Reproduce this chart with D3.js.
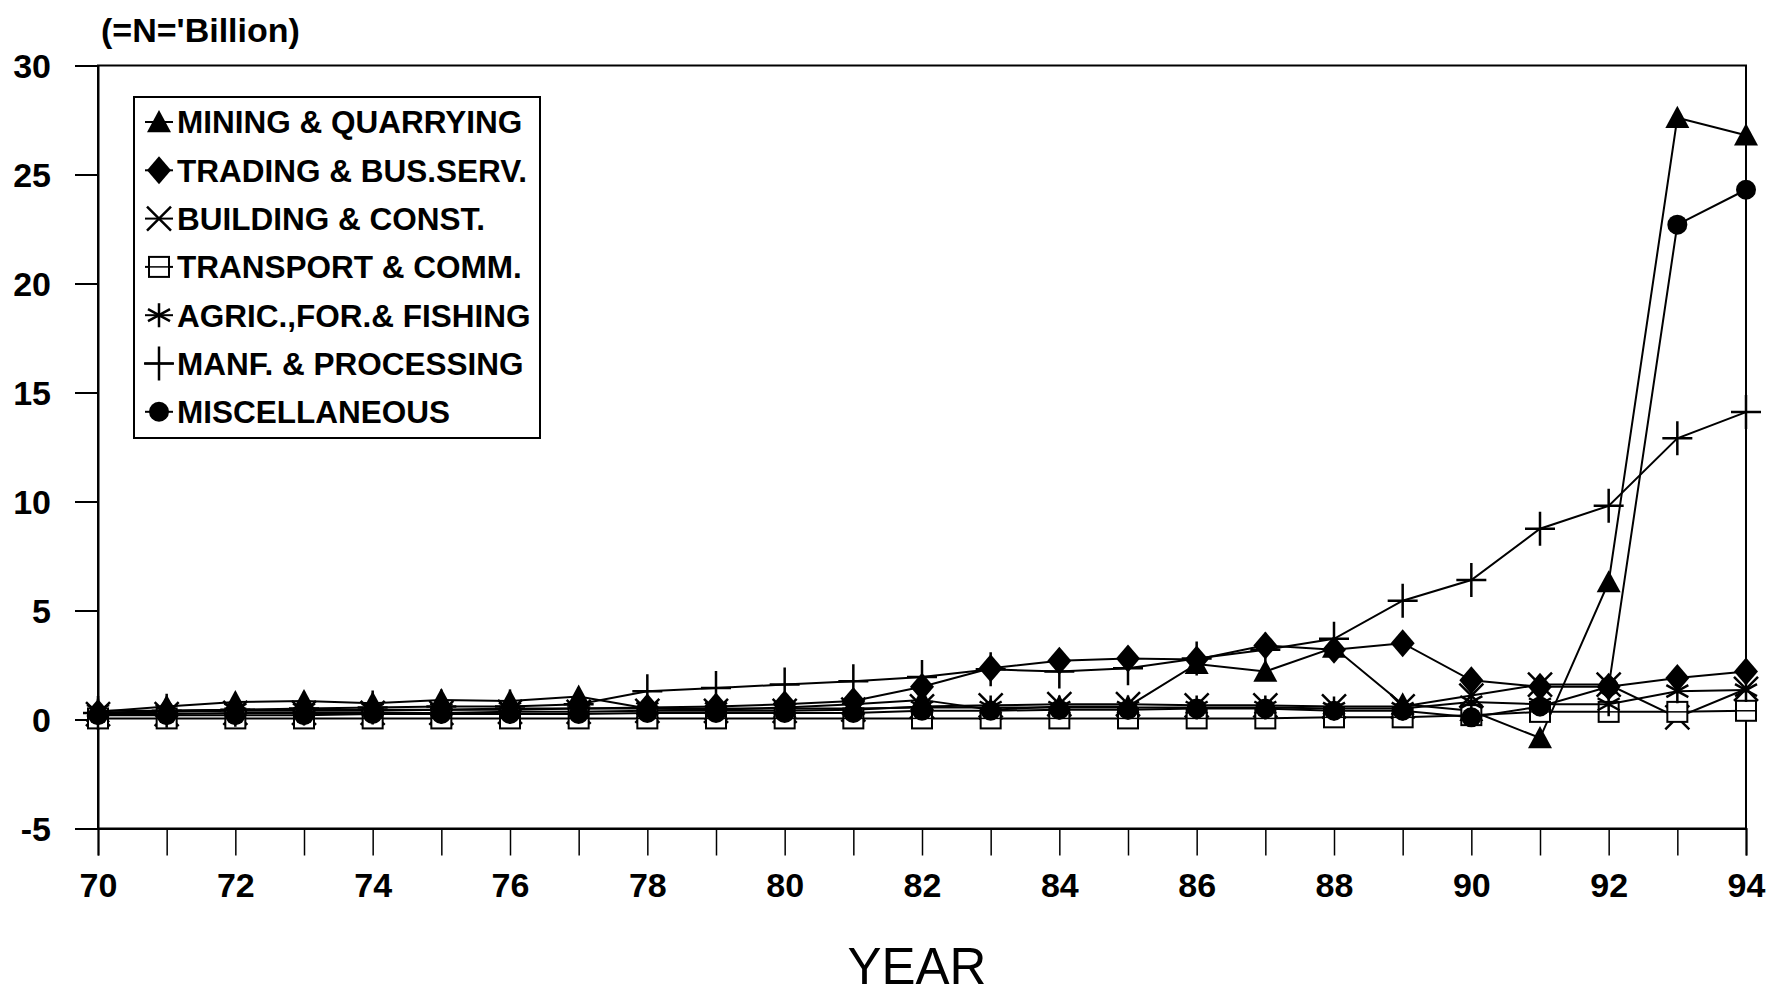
<!DOCTYPE html>
<html>
<head>
<meta charset="utf-8">
<script src="https://cdn.jsdelivr.net/npm/d3@7"></script>
<style>
  body { margin: 0; background: #fff; }
  svg { display: block; }
  text { font-family: "Liberation Sans", Arial, sans-serif; fill: #000; }
</style>
</head>
<body>
<svg id="chart" width="1770" height="998"></svg>
<script>
// years on the x axis (19xx)
var years = [70,71,72,73,74,75,76,77,78,79,80,81,82,83,84,85,86,87,88,89,90,91,92,93,94];
var yTicks = [-5,0,5,10,15,20,25,30];
var xLabels = [70,72,74,76,78,80,82,84,86,88,90,92,94];

// values in =N= billion
var mining    = [0.35,0.6,0.8,0.85,0.75,0.9,0.85,1.05,0.5,0.45,0.55,0.7,0.9,0.45,0.6,0.6,2.55,2.2,3.3,0.7,0.4,-0.85,6.3,27.6,26.8];
var trading   = [0.3,0.35,0.4,0.4,0.4,0.45,0.45,0.5,0.55,0.6,0.7,0.85,1.5,2.35,2.7,2.8,2.75,3.4,3.2,3.5,1.8,1.5,1.5,1.9,2.2];
var building  = [0.25,0.25,0.3,0.3,0.3,0.3,0.35,0.35,0.4,0.4,0.4,0.45,0.6,0.65,0.7,0.7,0.65,0.65,0.6,0.6,1.1,1.6,1.6,0.1,1.4];
var transport = [0.05,0.05,0.05,0.05,0.05,0.05,0.05,0.05,0.05,0.05,0.05,0.05,0.05,0.05,0.05,0.05,0.05,0.05,0.1,0.1,0.2,0.35,0.35,0.35,0.4];
var agric     = [0.4,0.4,0.45,0.45,0.45,0.45,0.5,0.5,0.5,0.5,0.5,0.5,0.55,0.55,0.55,0.55,0.55,0.55,0.5,0.5,0.8,0.7,0.7,1.3,1.35];
var manf      = [0.3,0.4,0.45,0.5,0.55,0.6,0.6,0.7,1.3,1.45,1.6,1.75,1.95,2.3,2.2,2.35,2.8,3.2,3.7,5.45,6.4,8.75,9.8,12.9,14.1];
var misc      = [0.2,0.2,0.2,0.2,0.25,0.25,0.25,0.25,0.3,0.3,0.3,0.3,0.4,0.4,0.45,0.45,0.5,0.5,0.4,0.4,0.1,0.6,1.5,22.7,24.3];

var seriesNames = ["MINING & QUARRYING","TRADING & BUS.SERV.","BUILDING & CONST.","TRANSPORT & COMM.","AGRIC.,FOR.& FISHING","MANF. & PROCESSING","MISCELLANEOUS"];
var seriesMarks = ["triangle","diamond","cross","square","star","plus","circle"];
var seriesData  = [mining, trading, building, transport, agric, manf, misc];

var svg = d3.select("#chart");

// plot box (window.top is read-only, so no plain "top" here)
var plotLeft = 98, plotRight = 1746, plotTop = 65.5, plotBottom = 828.5;

var x = d3.scaleLinear().domain([70, 94]).range([plotLeft, plotRight]);
var y = d3.scaleLinear().domain([-5, 30]).range([plotBottom, plotTop]);

// plot frame
svg.append("rect")
    .attr("x", plotLeft).attr("y", plotTop)
    .attr("width", plotRight - plotLeft).attr("height", plotBottom - plotTop)
    .attr("fill", "none").attr("stroke", "#000").attr("stroke-width", 2);

// y axis (plain hyphen for -5, like the original)
var yAxis = svg.append("g")
    .attr("transform", "translate(" + plotLeft + ",0)")
    .call(d3.axisLeft(y).tickValues(yTicks).tickSize(23).tickPadding(24).tickFormat(function(d) { return String(d); }));
yAxis.select(".domain").attr("stroke-width", 2);
yAxis.selectAll(".tick line").attr("stroke-width", 2);
yAxis.selectAll("text")
    .style("font-size", "34px")
    .style("font-weight", "bold")
    .attr("dy", "0.36em");

// x axis along the bottom of the frame
var xAxis = svg.append("g")
    .attr("transform", "translate(0," + plotBottom + ")")
    .call(d3.axisBottom(x).tickValues(years).tickSize(27).tickPadding(17)
        .tickFormat(function(d) { return xLabels.indexOf(d) >= 0 ? d : ""; }));
xAxis.select(".domain").attr("stroke-width", 2);
xAxis.selectAll(".tick line").attr("stroke-width", 1.5);
xAxis.selectAll("text")
    .style("font-size", "34px")
    .style("font-weight", "bold");

// unit label and axis title
svg.append("text")
    .attr("x", 101).attr("y", 42)
    .style("font-size", "34px")
    .style("font-weight", "bold")
    .text("(=N='Billion)");

svg.append("text")
    .attr("x", 917).attr("y", 984)
    .attr("text-anchor", "middle")
    .style("font-size", "51px")
    .text("YEAR");

// marker drawing
function drawMarker(g, kind, cx, cy) {
    var s = 12;
    if (kind == "triangle") {
        g.append("path")
            .attr("d", "M" + cx + "," + (cy - s) + "L" + (cx + s) + "," + (cy + s * 0.85) + "L" + (cx - s) + "," + (cy + s * 0.85) + "Z")
            .attr("fill", "#000");
    } else if (kind == "diamond") {
        g.append("path")
            .attr("d", "M" + cx + "," + (cy - 14) + "L" + (cx + 12) + "," + cy + "L" + cx + "," + (cy + 14) + "L" + (cx - 12) + "," + cy + "Z")
            .attr("fill", "#000");
    } else if (kind == "cross") {
        g.append("path")
            .attr("d", "M" + (cx - 12) + "," + (cy - 12) + "L" + (cx + 12) + "," + (cy + 12) + "M" + (cx + 12) + "," + (cy - 12) + "L" + (cx - 12) + "," + (cy + 12))
            .attr("stroke", "#000").attr("stroke-width", 2.5).attr("fill", "none");
    } else if (kind == "square") {
        g.append("rect")
            .attr("x", cx - 10).attr("y", cy - 10).attr("width", 20).attr("height", 20)
            .attr("fill", "#fff").attr("stroke", "#000").attr("stroke-width", 2);
        g.append("line")
            .attr("x1", cx - 10).attr("x2", cx + 10).attr("y1", cy).attr("y2", cy)
            .attr("stroke", "#000").attr("stroke-width", 1.5);
    } else if (kind == "star") {
        g.append("path")
            .attr("d", "M" + (cx - 11) + "," + (cy - 6) + "L" + (cx + 11) + "," + (cy + 6) + "M" + (cx + 11) + "," + (cy - 6) + "L" + (cx - 11) + "," + (cy + 6) + "M" + cx + "," + (cy - 12) + "L" + cx + "," + (cy + 12))
            .attr("stroke", "#000").attr("stroke-width", 2.5).attr("fill", "none");
    } else if (kind == "plus") {
        g.append("path")
            .attr("d", "M" + (cx - 15) + "," + cy + "L" + (cx + 15) + "," + cy + "M" + cx + "," + (cy - 17) + "L" + cx + "," + (cy + 17))
            .attr("stroke", "#000").attr("stroke-width", 2.5).attr("fill", "none");
    } else if (kind == "circle") {
        g.append("circle").attr("cx", cx).attr("cy", cy).attr("r", 10).attr("fill", "#000");
    }
}

var line = d3.line()
    .x(function(d, i) { return x(years[i]); })
    .y(function(d) { return y(d); });

var plot = svg.append("g").attr("class", "series");

seriesData.forEach(function(vals, k) {
    var g = plot.append("g");
    g.append("path")
        .datum(vals)
        .attr("d", line)
        .attr("fill", "none")
        .attr("stroke", "#000")
        .attr("stroke-width", 2);
    vals.forEach(function(v, i) {
        drawMarker(g, seriesMarks[k], x(years[i]), y(v));
    });
});

// legend
var legend = svg.append("g").attr("transform", "translate(134,97)");
legend.append("rect")
    .attr("width", 406).attr("height", 341)
    .attr("fill", "#fff").attr("stroke", "#000").attr("stroke-width", 2);

seriesNames.forEach(function(name, k) {
    var ry = 25 + k * 48.3;
    var row = legend.append("g");
    row.append("line")
        .attr("x1", 11).attr("x2", 39).attr("y1", ry).attr("y2", ry)
        .attr("stroke", "#000").attr("stroke-width", 2);
    drawMarker(row, seriesMarks[k], 25, ry);
    row.append("text")
        .attr("x", 43).attr("y", ry)
        .attr("dy", "0.36em")
        .style("font-size", "31.5px")
        .style("font-weight", "bold")
        .text(name);
});
</script>
</body>
</html>
